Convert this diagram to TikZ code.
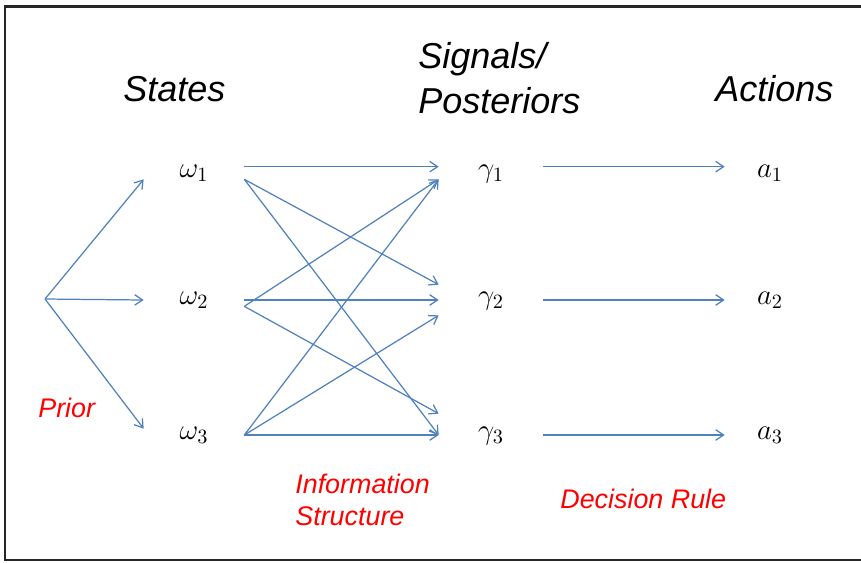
\RequirePackage{fix-cm}
\documentclass[tikz,border=0pt]{standalone}
\usepackage{amsmath}
\usepackage[no-math]{fontspec}
\setmainfont{Liberation Sans}
\usetikzlibrary{arrows.meta}
\definecolor{flowblue}{RGB}{79,129,189}

\begin{document}
\begin{tikzpicture}[x=0.02cm, y=-0.02cm,
    head/.style={font=\fontsize{20.5}{25.5}\selectfont\itshape, inner sep=0pt, align=left},
    note/.style={font=\fontsize{15.3}{18.1}\selectfont\itshape, text=red, inner sep=0pt, align=left},
    var/.style={font=\fontsize{16.5}{19}\selectfont, inner sep=0pt, text height=0.2cm, text depth=0.04cm},
    omeganode/.style={var, minimum width=2cm},
    gammanode/.style={var, minimum width=2.08cm},
    actnode/.style={var, minimum width=1.8cm},
    flow/.style={flowblue, line width=0.7pt, -{Straight Barb[length=4.5pt, width=6pt]}}]
    \useasboundingbox (0,0) rectangle (861,562);
    \draw[line width=1.2pt, black!85] (861,6.5) -- (5,6.5) -- (5,560) -- (861,560);

    \node[head, anchor=base west] (states) at (123,101) {States};
    \node[head, anchor=base west] (signals) at (418,113) {Signals/\\Posteriors};
    \node[head, anchor=base west] (actions) at (715,101) {Actions};

    \coordinate (prior) at (45,299);
    \node[omeganode] (w1) at (194,173) {$\omega_1$};
    \node[omeganode] (w2) at (194,300) {$\omega_2$};
    \node[omeganode] (w3) at (194,435) {$\omega_3$};
    \node[gammanode] (g1) at (491,173) {$\gamma_1$};
    \node[gammanode, minimum height=0.6cm] (g2) at (491,300) {$\gamma_2$};
    \node[gammanode, minimum height=0.84cm] (g3) at (491,435) {$\gamma_3$};
    \node[actnode] (a1) at (770,173) {$a_1$};
    \node[actnode] (a2) at (770,300) {$a_2$};
    \node[actnode] (a3) at (770,435) {$a_3$};

    \node[note, anchor=base west] (priorlabel) at (38,417) {Prior};
    \node[note, anchor=base west] (infolabel) at (295,525) {Information\\Structure};
    \node[note, anchor=base west] (rulelabel) at (560,508) {Decision Rule};

    \path[flow] (prior) edge (w1.south west) edge (w2.west) edge (w3.north west);
    \path[flow] (w1.north east) edge (g1.north west);
    \path[flow] (w1.south east) edge (g2.north west) edge (g3.west);
    \path[flow] (w2.south east) edge (g1.south west) edge (g3.north west);
    \path[flow] (w2.east) edge (g2.west);
    \path[flow] (w3.east) edge (g1.south west) edge (g2.south west) edge (g3.west);
    \path[flow] (g1.north east) edge (a1.north west);
    \path[flow] (g2.east) edge (a2.west);
    \path[flow] (g3.east) edge (a3.west);
\end{tikzpicture}
\end{document}
